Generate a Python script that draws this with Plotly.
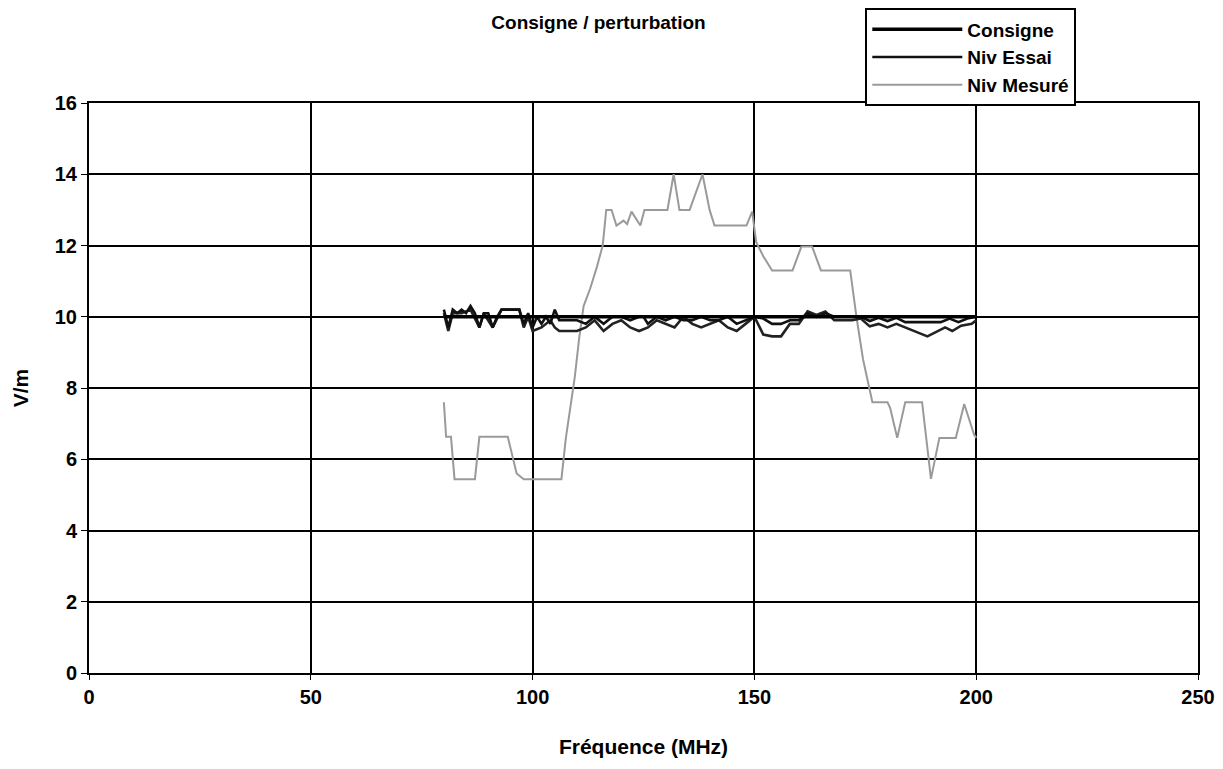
import plotly.graph_objects as go

# Consigne (constant set point)
consigne_x = [80, 200]
consigne_y = [10, 10]

# Niv Essai
essai_x = [80, 81, 82, 83, 84, 85, 86, 87, 88, 89, 90, 91, 92, 93, 95, 97, 98, 99, 100,
           101, 102, 103, 104, 105, 106, 108, 110, 112, 114, 116, 118, 120, 122, 124, 125,
           126, 128, 130, 132, 134, 136, 138, 140, 142, 144, 146, 148, 150, 152, 154, 156,
           158, 160, 162, 164, 166, 168, 170, 172, 174, 176, 178, 180, 182, 184, 186, 188,
           190, 192, 194, 196, 198, 200]
essai_y = [10.2, 9.7, 10.2, 10.1, 10.2, 10.1, 10.3, 10.1, 9.7, 10.1, 10.1, 9.7, 10.0, 10.2, 10.2, 10.2, 9.8, 10.1, 9.7,
           10.0, 9.8, 10.0, 9.8, 10.2, 9.9, 9.9, 9.9, 9.8, 10.0, 9.8, 10.0, 10.0, 9.9, 10.0, 10.0,
           9.8, 10.0, 9.9, 10.0, 9.9, 9.9, 10.0, 9.9, 9.9, 10.0, 9.8, 9.9, 10.0, 9.95, 9.8, 9.8,
           9.9, 9.9, 10.1, 10.0, 10.1, 10.0, 10.0, 10.0, 10.0, 9.88, 9.97, 9.88, 9.97, 9.85, 9.85, 9.85,
           9.85, 9.85, 9.95, 9.85, 9.95, 10.0]

# second test level trace (not in legend)
essai2_x = [80, 81, 82, 84, 86, 88, 89, 91, 93, 97, 98, 99, 100, 102, 104, 105, 106, 108,
            110, 112, 114, 116, 118, 120, 122, 124, 126, 128, 130, 132, 134, 136, 138, 140,
            142, 144, 146, 148, 150, 152, 154, 156, 158, 160, 162, 164, 166, 168, 170, 172,
            174, 176, 178, 180, 182, 186, 189, 193, 194.6, 196.6, 199, 200]
essai2_y = [10.1, 9.6, 10.1, 10.1, 10.2, 9.7, 10.1, 9.7, 10.2, 10.2, 9.7, 10.0, 9.6, 9.7, 9.9, 9.7, 9.6, 9.6,
            9.6, 9.7, 9.9, 9.6, 9.8, 9.9, 9.7, 9.6, 9.7, 9.9, 9.8, 9.7, 10.0, 9.8, 9.7, 9.8,
            9.9, 9.7, 9.6, 9.8, 10.0, 9.5, 9.45, 9.45, 9.8, 9.8, 10.15, 10.05, 10.15, 9.9, 9.9, 9.9,
            9.95, 9.73, 9.8, 9.7, 9.8, 9.6, 9.45, 9.7, 9.6, 9.75, 9.8, 9.9]

# Niv Mesuré
mesure_x = [80, 80.5, 81.6, 82.4, 87, 88, 94.4, 96.4, 98, 106.5, 107.5, 108.5, 109.5, 110.5,
            111.5, 113, 114.5, 115.8, 116.6, 117.8, 118.9, 120.5, 121.3, 122.3, 124.3, 125.2,
            130.4, 131.8, 133.1, 135.4, 138.3, 139.9, 141, 148.2, 149.5, 150.4, 152, 154, 158.6,
            160.6, 163, 165, 171.6, 173, 174.5, 175.9, 176.6, 180, 180.6, 182.2, 184, 187.8,
            189.8, 191.7, 195.4, 197.3, 199.5, 200]
mesure_y = [7.6, 6.63, 6.63, 5.44, 5.44, 6.63, 6.63, 5.6, 5.44, 5.44, 6.6, 7.5, 8.3, 9.4,
            10.3, 10.8, 11.4, 12.0, 13.0, 13.0, 12.56, 12.7, 12.6, 12.95, 12.56, 13.0,
            13.0, 14.0, 13.0, 13.0, 14.0, 13.0, 12.56, 12.56, 12.95, 12.1, 11.7, 11.3, 11.3,
            11.97, 11.97, 11.3, 11.3, 10.0, 8.8, 8.0, 7.6, 7.6, 7.44, 6.6, 7.6, 7.6,
            5.45, 6.6, 6.6, 7.55, 6.7, 6.6]

font_family = "Liberation Sans, Arial, sans-serif"

fig = go.Figure()
fig.add_trace(go.Scatter(x=mesure_x, y=mesure_y, name="Niv Mesuré", mode="lines",
                         line=dict(color="#9a9a9a", width=2)))
fig.add_trace(go.Scatter(x=essai2_x, y=essai2_y, name="Niv Essai 2", mode="lines",
                         line=dict(color="#222222", width=2.6), showlegend=False))
fig.add_trace(go.Scatter(x=essai_x, y=essai_y, name="Niv Essai", mode="lines",
                         line=dict(color="#111111", width=2.6)))
fig.add_trace(go.Scatter(x=consigne_x, y=consigne_y, name="Consigne", mode="lines",
                         line=dict(color="#000000", width=3.5)))

# page body has an 8px margin, so the figure is a little smaller than the window
fig.update_layout(
    width=1215, height=761,
    paper_bgcolor="white", plot_bgcolor="white",
    margin=dict(l=81, r=25, t=95, b=96, autoexpand=False),
    font=dict(family=font_family, size=18, color="black", weight="bold"),
    title=dict(text="Consigne / perturbation", x=0.486, xanchor="center", y=0.99, yanchor="top",
               pad=dict(t=0, b=0), font=dict(size=19, family=font_family, weight="bold")),
    legend=dict(x=0.70, xanchor="left", y=1.166, yanchor="top", traceorder="reversed",
                bordercolor="black", borderwidth=2, bgcolor="white",
                font=dict(size=19, family=font_family, weight="bold"),
                itemwidth=90, tracegroupgap=0),
    showlegend=True,
)
fig.update_xaxes(range=[0, 250], dtick=50, showgrid=True, gridcolor="black", gridwidth=2,
                 showline=True, linecolor="black", linewidth=2, mirror=True,
                 ticks="outside", ticklen=5, tickcolor="black", zeroline=False,
                 tickfont=dict(size=20, family=font_family, weight="bold"),
                 title=dict(text="Fréquence (MHz)", standoff=32, font=dict(size=21, weight="bold")))
fig.update_yaxes(range=[0, 16], dtick=2, showgrid=True, gridcolor="black", gridwidth=2,
                 showline=True, linecolor="black", linewidth=2, mirror=True,
                 ticks="outside", ticklen=6, tickcolor="black", zeroline=False,
                 tickfont=dict(size=20, family=font_family, weight="bold"),
                 title=dict(text="V/m", standoff=20, font=dict(size=21, weight="bold")))

fig.write_html("out.html")
